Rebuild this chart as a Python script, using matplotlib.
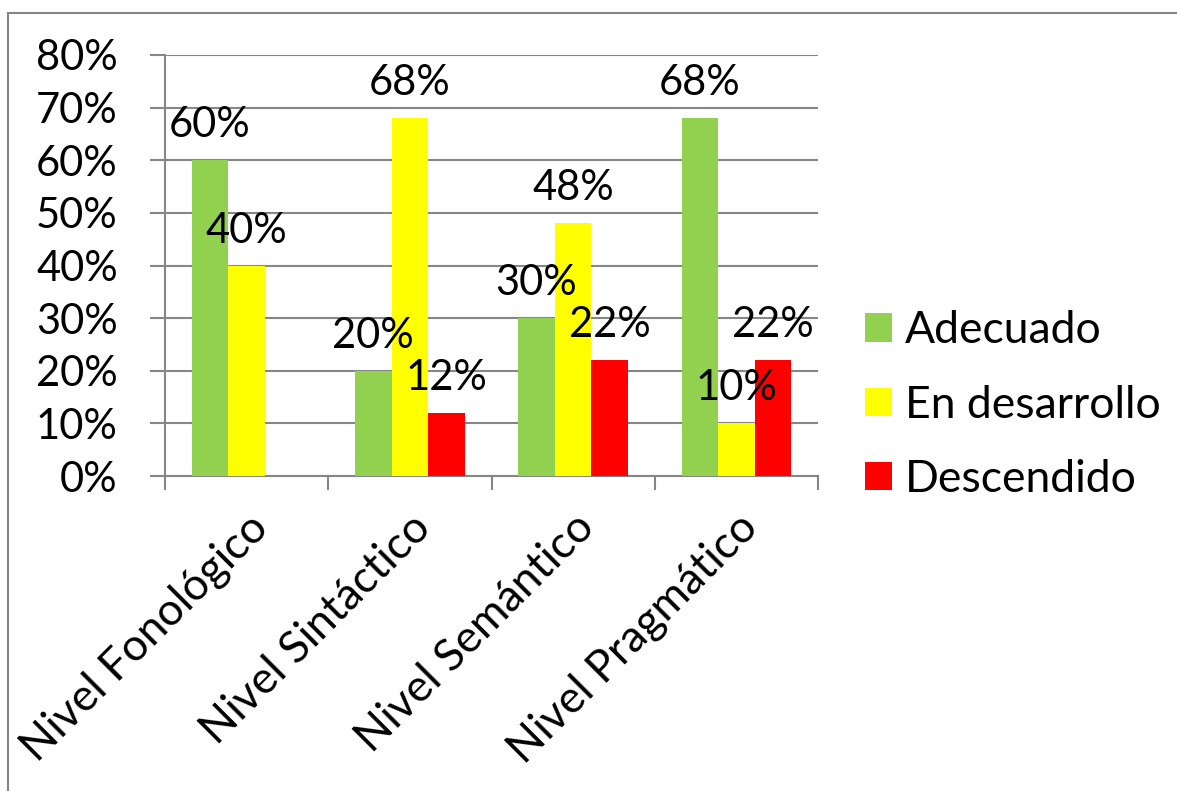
import matplotlib
matplotlib.use("Agg")
from matplotlib import pyplot as plt
from matplotlib.patches import Rectangle
import numpy as np

FONT_SIZE = 30
BIG_SIZE = 32
plt.rc('font', family=['Lato', 'DejaVu Sans'], size=FONT_SIZE)

categories = ["Nivel Fonológico", "Nivel Sintáctico", "Nivel Semántico", "Nivel Pragmático"]
series_names = ["Adecuado", "En desarrollo", "Descendido"]
adecuado = [60, 20, 30, 68]
en_desarrollo = [40, 68, 48, 10]
descendido = [0, 12, 22, 22]
y_ticks = [0, 10, 20, 30, 40, 50, 60, 70, 80]
colors = ["#92D050", "#FFFF00", "#FF0000"]
GRID = "#868686"

fig = plt.figure(figsize=(11.77, 7.91), dpi=100)
ax = fig.add_axes([165 / 1177, 1 - 476 / 791, 653 / 1177, 421 / 791])

# outer chart border (only top and left visible in the reference)
fig.patches.append(Rectangle((8 / 1177, -0.2), 1.2, 1.2 - 13 / 791,
                             transform=fig.transFigure, fill=False,
                             edgecolor=GRID, linewidth=1.5))

x = np.arange(len(categories))
width = 0.224
all_series = [adecuado, en_desarrollo, descendido]
for i, vals in enumerate(all_series):
	pos = x + (i - 1) * width
	ax.bar(pos, vals, width, color=colors[i], label=series_names[i], zorder=3)
	for p, v in zip(pos, vals):
		if v == 0:
			continue
		ax.annotate(f"{v}%", (p, v), xytext=(0, 16.5), textcoords="offset points",
		            ha="center", va="baseline", zorder=4)

ax.set_xlim(-0.5, len(categories) - 0.5)
ax.set_ylim(0, 80)
ax.set_yticks(y_ticks)
ax.set_yticklabels([f"{t}%" for t in y_ticks])
ax.yaxis.grid(True, color=GRID, linewidth=1.5, zorder=0)
ax.tick_params(axis='y', length=11, width=1.5, color=GRID, pad=23)

ax.set_xticks(x)
ax.set_xticklabels(categories, rotation=45, ha="right", va="top",
                   rotation_mode="anchor", fontsize=BIG_SIZE)
ax.tick_params(axis='x', which='major', length=0, pad=22)
ax.set_xticks(np.arange(-0.5, len(categories)), minor=True)
ax.tick_params(axis='x', which='minor', length=10, width=1.5, color=GRID)

for side in ["top", "right"]:
	ax.spines[side].set_visible(False)
for side in ["left", "bottom"]:
	ax.spines[side].set_color(GRID)
	ax.spines[side].set_linewidth(1.5)

ax.legend(loc="center left", bbox_to_anchor=((865 - 165) / 653, 71 / 421), frameon=False,
          fontsize=BIG_SIZE, borderpad=0, borderaxespad=0,
          handlelength=0.6, handleheight=0.6, handletextpad=0.3, labelspacing=0.75)

plt.savefig("out.png", dpi=100)
